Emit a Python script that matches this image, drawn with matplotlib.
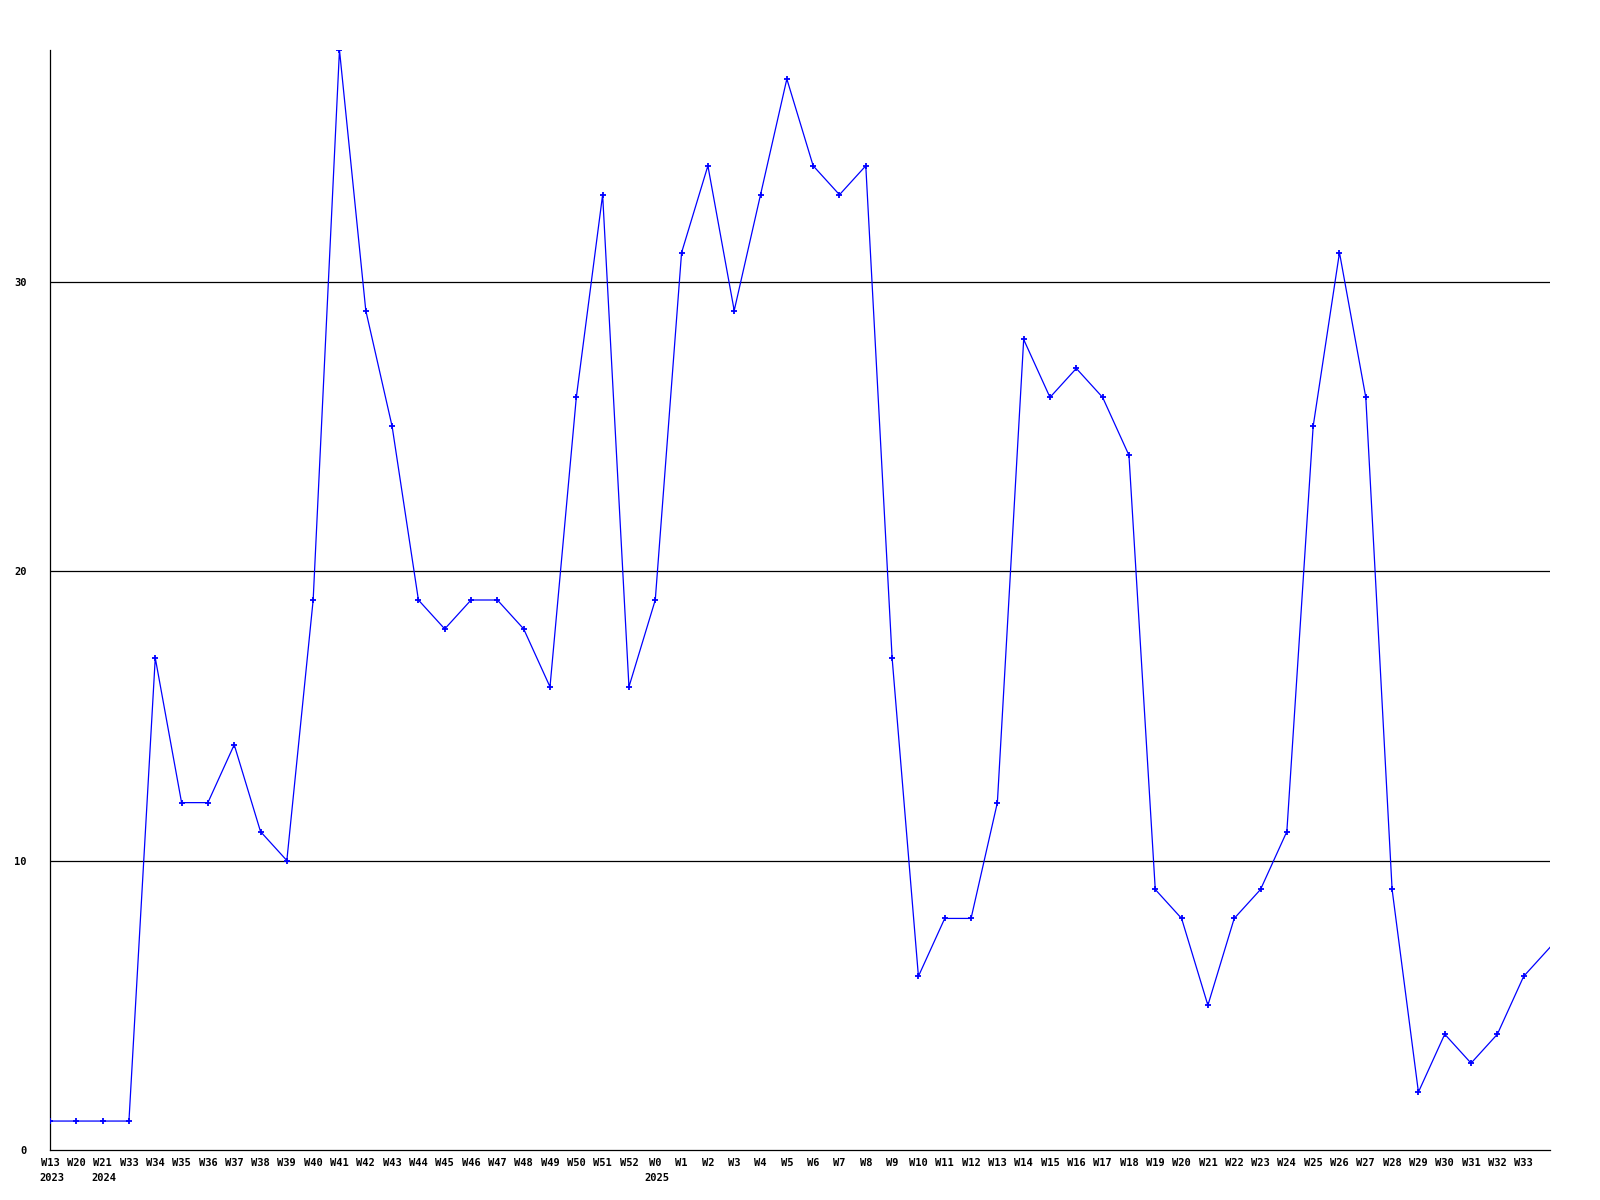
import matplotlib
matplotlib.use("Agg")
import matplotlib.pyplot as plt
from matplotlib.transforms import offset_copy

weeks = ["W13", "W20", "W21", "W33", "W34", "W35", "W36", "W37", "W38", "W39",
         "W40", "W41", "W42", "W43", "W44", "W45", "W46", "W47", "W48", "W49",
         "W50", "W51", "W52", "W0", "W1", "W2", "W3", "W4", "W5", "W6", "W7",
         "W8", "W9", "W10", "W11", "W12", "W13", "W14", "W15", "W16", "W17",
         "W18", "W19", "W20", "W21", "W22", "W23", "W24", "W25", "W26", "W27",
         "W28", "W29", "W30", "W31", "W32", "W33"]
years = {0: "2023", 2: "2024", 23: "2025"}
# last value belongs to the next (unlabelled) week, cut off at the right edge
values = [1, 1, 1, 1, 17, 12, 12, 14, 11, 10,
          19, 38, 29, 25, 19, 18, 19, 19, 18, 16,
          26, 33, 16, 19, 31, 34, 29, 33, 37, 34, 33,
          34, 17, 6, 8, 8, 12, 28, 26, 27, 26,
          24, 9, 8, 5, 8, 9, 11, 25, 31, 26,
          9, 2, 4, 3, 4, 6, 7]
yticks = [0, 10, 20, 30]

mono = dict(fontfamily="DejaVu Sans Mono", fontweight="bold", fontsize=7.5)

fig = plt.figure(figsize=(16, 12), dpi=100)
ax = fig.add_axes([50 / 1600, 50 / 1200, 1500 / 1600, 1100 / 1200])

x = list(range(len(values)))
ax.plot(x, values, color="blue", lw=0.9, marker="+", ms=4, mew=1.3,
        markevery=list(range(len(values) - 1)), zorder=3)
ax.set_xlim(0, len(values) - 1)
ax.set_ylim(0, 38)

for v in yticks[1:]:
    ax.axhline(v, color="black", lw=0.9, zorder=1)

ax.set_xticks(range(len(weeks)))
ax.set_xticklabels(weeks, **mono)
ax.set_yticks(yticks)
ax.set_yticklabels([str(v) for v in yticks], **mono)
ax.tick_params(length=0, pad=6)
ax.tick_params(axis="y", pad=17)

# year line under the week label
base = ax.get_xaxis_transform()
for i, yr in years.items():
    tr = offset_copy(base, fig=fig, x=-8, y=-16.5, units="points")
    ax.text(i, 0, yr, transform=tr, ha="left", va="top", **mono)

ax.spines["top"].set_visible(False)
ax.spines["right"].set_visible(False)
ax.spines["left"].set_linewidth(0.9)
ax.spines["bottom"].set_linewidth(0.9)

fig.savefig("out.png", dpi=100, facecolor="white")
